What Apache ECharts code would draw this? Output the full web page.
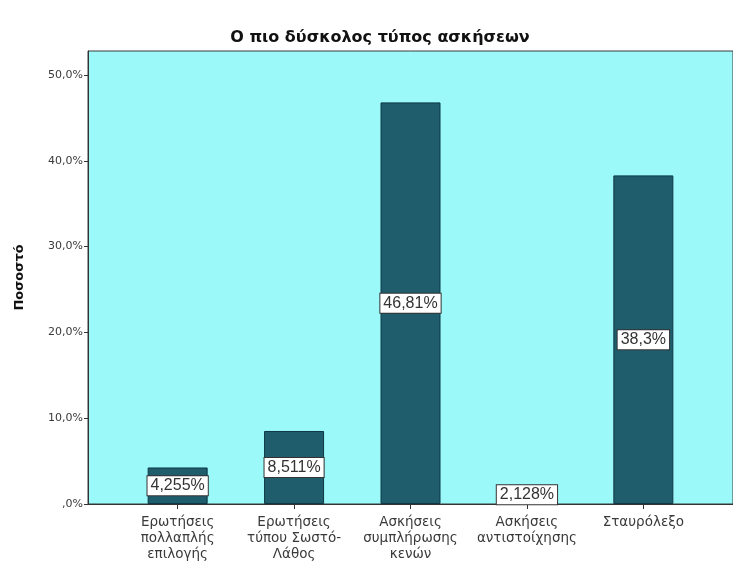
<!DOCTYPE html>
<html>
<head>
<meta charset="utf-8">
<script src="https://cdn.jsdelivr.net/npm/echarts@6/dist/echarts.min.js"></script>
<style>
  html, body { margin: 0; padding: 0; background: #fff; }
  #chart { width: 733px; height: 563px; }
</style>
</head>
<body>
<div id="chart"></div>
<script>
'use strict';

// data
var categories = [
    'Ερωτήσεις\nπολλαπλής\nεπιλογής',
    'Ερωτήσεις\nτύπου Σωστό-\nΛάθος',
    'Ασκήσεις\nσυμπλήρωσης\nκενών',
    'Ασκήσεις\nαντιστοίχησης',
    'Σταυρόλεξο'
];
var values = [4.255, 8.511, 46.81, 2.128, 38.3];
var valueLabels = ['4,255%', '8,511%', '46,81%', '2,128%', '38,3%'];
var yTicks = [0, 10, 20, 30, 40, 50];

var font = '"Liberation Sans", Arial, sans-serif';
var wideFont = '"DejaVu Sans", sans-serif';

var barData = [];
for (var i = 0; i < values.length; i++) {
    barData.push([i, values[i]]);
}

var chart = echarts.init(document.getElementById('chart'));
chart.setOption({
    animation: false,
    backgroundColor: '#ffffff',
    title: {
        text: 'Ο πιο δύσκολος τύπος ασκήσεων',
        left: 375,
        textAlign: 'center',
        top: 25,
        textStyle: { fontFamily: wideFont, fontSize: 16, fontWeight: 'bold', color: '#111' }
    },
    grid: {
        left: 88,
        top: 51,
        right: -5,
        height: 453,
        show: true,
        backgroundColor: '#9cf9f9',
        borderColor: '#3a3a3a',
        borderWidth: 1
    },
    xAxis: {
        type: 'value',
        min: -0.77,
        max: 4.77,
        splitLine: { show: false },
        axisLine: { show: true, onZero: false, lineStyle: { color: '#333', width: 1 } },
        axisTick: {
            show: true, customValues: [0, 1, 2, 3, 4], length: 5,
            lineStyle: { color: '#333' }
        },
        axisLabel: {
            customValues: [0, 1, 2, 3, 4],
            formatter: function (v) { return categories[Math.round(v)]; },
            fontFamily: wideFont,
            fontSize: 13.5,
            lineHeight: 16,
            color: '#3a3a3a',
            margin: 10
        }
    },
    yAxis: {
        type: 'value',
        min: 0,
        max: 52.8,
        name: 'Ποσοστό',
        nameLocation: 'middle',
        nameGap: 62,
        nameTextStyle: { fontFamily: wideFont, fontSize: 13, fontWeight: 'bold', color: '#111' },
        splitLine: { show: false },
        axisLine: { show: true, onZero: false, lineStyle: { color: '#333', width: 1 } },
        axisTick: {
            show: true, customValues: yTicks, length: 4,
            lineStyle: { color: '#333' }
        },
        axisLabel: {
            customValues: yTicks,
            formatter: function (v) { return v === 0 ? ',0%' : v.toFixed(1).replace('.', ',') + '%'; },
            fontFamily: wideFont,
            fontSize: 11,
            color: '#3a3a3a',
            margin: 5
        }
    },
    series: [{
        type: 'bar',
        data: barData,
        barWidth: 60,
        itemStyle: { color: '#1f5d6d', borderColor: '#0d3844', borderWidth: 1 },
        label: {
            show: true,
            position: 'inside',
            formatter: function (p) { return valueLabels[p.dataIndex]; },
            fontFamily: font,
            fontSize: 16,
            color: '#333',
            backgroundColor: '#ffffff',
            borderColor: '#333',
            borderWidth: 1,
            padding: [2, 3, 1, 3]
        }
    }]
});
</script>
</body>
</html>
